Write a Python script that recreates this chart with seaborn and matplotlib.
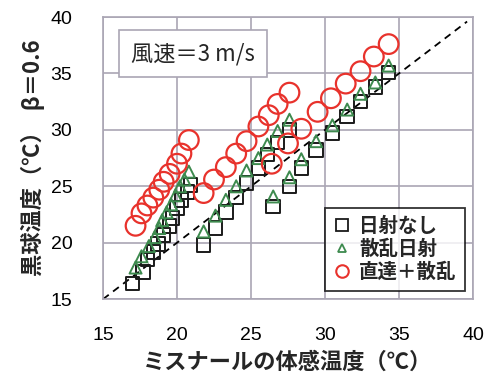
import matplotlib
matplotlib.use("Agg")
import matplotlib.pyplot as plt
import seaborn as sns
import pandas as pd
from matplotlib.lines import Line2D

# --- data ---
sq_x = [17.0, 17.7, 18.0, 18.4, 18.7, 19.1, 19.5, 19.7, 20.0, 20.3, 20.7, 20.9,
        21.8, 22.6, 23.3, 24.0, 24.7, 25.5, 26.1, 26.8, 27.6,
        26.5, 27.6, 28.4, 29.4, 30.5, 31.5, 32.4, 33.4, 34.3]
sq_y = [16.4, 17.4, 18.5, 19.2, 19.9, 20.7, 21.5, 22.2, 23.1, 23.8, 24.5, 25.1,
        19.8, 21.3, 22.7, 24.0, 25.3, 26.6, 27.8, 28.9, 30.0,
        23.2, 25.0, 26.6, 28.2, 29.7, 31.2, 32.5, 33.8, 35.1]

tri_x = [17.2, 17.6, 18.1, 18.5, 18.8, 19.0, 19.3, 19.6, 19.9, 20.2, 20.5, 20.8,
         21.8, 22.6, 23.3, 24.0, 24.7, 25.5, 26.1, 26.8, 27.6,
         26.5, 27.6, 28.4, 29.4, 30.5, 31.5, 32.4, 33.4, 34.3]
tri_y = [17.8, 18.8, 19.7, 20.5, 21.3, 22.0, 22.7, 23.4, 24.2, 25.0, 25.6, 26.3,
         21.0, 22.4, 23.8, 25.0, 26.4, 27.5, 28.7, 29.9, 30.9,
         24.1, 25.8, 27.4, 29.0, 30.4, 31.8, 33.2, 34.2, 35.7]

cir_x = [17.2, 17.6, 18.0, 18.4, 18.8, 19.1, 19.5, 20.0, 20.3, 20.8,
         21.8, 22.5, 23.3, 24.0, 24.7, 25.5, 26.2, 26.8, 27.6,
         26.4, 27.5, 28.4, 29.5, 30.4, 31.4, 32.4, 33.3, 34.3]
cir_y = [21.5, 22.6, 23.3, 24.0, 24.7, 25.4, 26.1, 27.0, 27.9, 29.1,
         24.4, 25.6, 26.7, 27.9, 29.0, 30.3, 31.3, 32.3, 33.3,
         27.0, 28.8, 30.1, 31.6, 32.8, 34.1, 35.2, 36.5, 37.6]

labels = ["日射なし", "散乱日射", "直達＋散乱"]
ticks = [15, 20, 25, 30, 35, 40]
note = "風速＝3 m/s"
xlabel = "ミスナールの体感温度（℃）"
ylabel = "黒球温度（℃）  β＝0.6"

# --- style ---
sns.set_theme(style="whitegrid")
plt.rcParams['font.family'] = ['Noto Sans CJK JP', 'DejaVu Sans']

c_black, c_green, c_red = "#1a1a1a", "#3d8a4e", "#e8322c"
grid_c = "#aaa6b4"

fig = plt.figure(figsize=(5.0, 3.87), dpi=100)
fig.patch.set_facecolor("white")
ax = fig.add_axes([0.206, 0.227, 0.74, 0.729])

ax.plot([15, 39.6], [15, 39.6], ls=(0, (4, 3)), color="black", lw=1.3, zorder=2)

df_sq = pd.DataFrame({"x": sq_x, "y": sq_y})
df_tri = pd.DataFrame({"x": tri_x, "y": tri_y})
df_cir = pd.DataFrame({"x": cir_x, "y": cir_y})

sns.scatterplot(data=df_sq, x="x", y="y", marker="s", s=95, fc="none",
                ec=c_black, linewidth=1.4, ax=ax, zorder=3)
sns.scatterplot(data=df_tri, x="x", y="y", marker="^", s=75, fc="none",
                ec=c_green, linewidth=1.4, ax=ax, zorder=4)
sns.scatterplot(data=df_cir, x="x", y="y", marker="o", s=200, fc="none",
                ec=c_red, linewidth=1.6, ax=ax, zorder=5)

ax.set_xlim(15, 40)
ax.set_ylim(15, 40)
ax.set_xticks(ticks)
ax.set_yticks(ticks)
ax.set_xticklabels([str(t) for t in ticks], family=['Liberation Sans', 'DejaVu Sans'], fontsize=14)
ax.set_yticklabels([str(t) for t in ticks], family=['Liberation Sans', 'DejaVu Sans'], fontsize=14)
ax.tick_params(axis='x', length=0, pad=20, colors='black')
ax.tick_params(axis='y', length=0, pad=22, colors='black')
ax.grid(True, color=grid_c, lw=1.2)
for sp in ax.spines.values():
    sp.set_color(grid_c)
    sp.set_linewidth(1.2)

ax.set_xlabel(xlabel, fontsize=16, fontweight='bold', labelpad=5)
ax.set_ylabel(ylabel, fontsize=16, fontweight='bold', labelpad=4)

ax.text(0.076, 0.87, note, transform=ax.transAxes, fontsize=16,
        va='center', ha='left',
        bbox=dict(boxstyle='square,pad=0.55', fc='white', ec=grid_c, lw=1.2),
        zorder=6)

handles = [
    Line2D([], [], ls='none', marker='s', ms=8, mfc='none', mec=c_black, mew=1.3),
    Line2D([], [], ls='none', marker='^', ms=6, mfc='none', mec=c_green, mew=1.3),
    Line2D([], [], ls='none', marker='o', ms=9, mfc='none', mec=c_red, mew=1.5),
]
leg = ax.legend(handles, labels, loc='lower right', bbox_to_anchor=(0.99, 0.015),
                fontsize=14, frameon=True, fancybox=False, handlelength=0.8,
                handletextpad=0.5, labelspacing=0.2, borderpad=0.45,
                borderaxespad=0.2)
leg.get_frame().set_edgecolor('black')
leg.get_frame().set_linewidth(1.3)
leg.set_zorder(7)
for t in leg.get_texts():
    t.set_fontweight('bold')

fig.savefig("out.png", dpi=100)
